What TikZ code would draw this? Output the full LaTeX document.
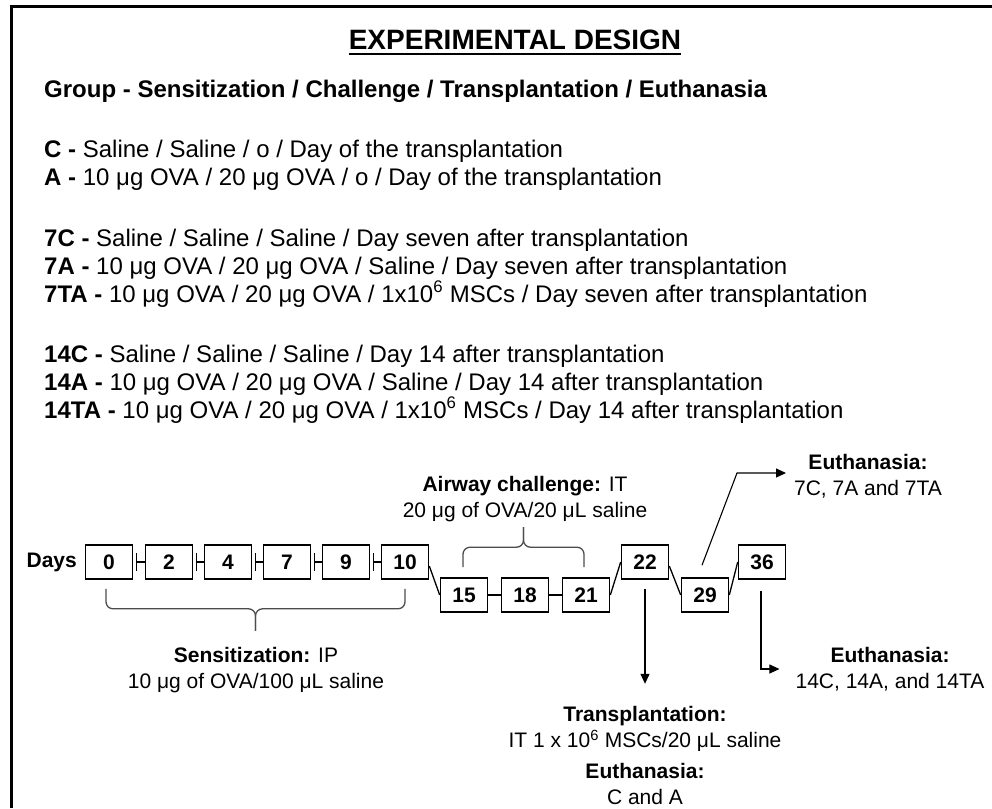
\documentclass[tikz,border=0pt]{standalone}
\usepackage{fontspec}
\setmainfont{Liberation Sans}
\usetikzlibrary{arrows.meta,calc}
\begin{document}
\begin{tikzpicture}[x=1pt,y=-1pt,
  daybox/.style={draw, line width=1.6pt, minimum width=47pt, minimum height=34pt, inner sep=0pt, font=\fontsize{21}{24}\selectfont\bfseries},
  txt/.style={anchor=base west, inner sep=0pt, font=\fontsize{24}{28}\selectfont},
  ctr/.style={align=center, inner sep=0pt, font=\fontsize{21}{26}\selectfont},
  conn/.style={line width=1.3pt},
  bracel/.style={line width=1.3pt, black!70, rounded corners=7pt},
  arr/.style={line width=1.1pt, -{Triangle[length=10pt,width=9pt]}}]
\useasboundingbox (0,0) rectangle (992,808);
\fill[white] (0,0) rectangle (992,808);
\draw[line width=3pt] (11,808) -- (11,7) -- (992,7);

% title
\node[inner sep=0pt, anchor=base, font=\fontsize{28}{32}\selectfont\bfseries] (title) at (515,50) {EXPERIMENTAL DESIGN};
\draw[line width=2pt] ([yshift=-4pt]title.base west) -- ([yshift=-4pt]title.base east);

\node[txt, font=\fontsize{24}{28}\selectfont\bfseries] (grp) at (44,97) {Group - Sensitization / Challenge / Transplantation / Euthanasia};

\node[txt] (gC) at (44,157) {\textbf{C -} Saline / Saline / o / Day of the transplantation};
\node[txt] (gA) at (44,185) {\textbf{A -} 10 μg OVA / 20 μg OVA / o / Day of the transplantation};

\node[txt] (g7C) at (44,246) {\textbf{7C -} Saline / Saline / Saline / Day seven after transplantation};
\node[txt] (g7A) at (44,274) {\textbf{7A -} 10 μg OVA / 20 μg OVA / Saline / Day seven after transplantation};
\node[txt] (g7TA) at (44,302) {\textbf{7TA -} 10 μg OVA / 20 μg OVA / 1x10\textsuperscript{6} MSCs / Day seven after transplantation};

\node[txt] (g14C) at (44,362) {\textbf{14C -} Saline / Saline / Saline / Day 14 after transplantation};
\node[txt] (g14A) at (44,390) {\textbf{14A -} 10 μg OVA / 20 μg OVA / Saline / Day 14 after transplantation};
\node[txt] (g14TA) at (44,418) {\textbf{14TA -} 10 μg OVA / 20 μg OVA / 1x10\textsuperscript{6} MSCs / Day 14 after transplantation};

% timeline
\node[inner sep=0pt, anchor=east, font=\fontsize{21}{24}\selectfont\bfseries] (days) at (77,562) {Days};
\node[daybox] (b0) at (109,562) {0};
\node[daybox] (b2) at (169,562) {2};
\node[daybox] (b4) at (228,562) {4};
\node[daybox] (b7) at (287,562) {7};
\node[daybox] (b9) at (346,562) {9};
\node[daybox] (b10) at (405,562) {10};
\node[daybox] (b15) at (464,595) {15};
\node[daybox] (b18) at (525,595) {18};
\node[daybox] (b21) at (586,595) {21};
\node[daybox] (b22) at (645,562) {22};
\node[daybox] (b29) at (705,595) {29};
\node[daybox] (b36) at (762,562) {36};

\foreach \a/\b in {b0/b2,b2/b4,b4/b7,b7/b9,b9/b10}{
  \draw[conn] ([xshift=3pt]\a.east) -- (\b.west);
  \draw[conn] ([xshift=3pt,yshift=9pt]\a.east) -- ([xshift=3pt,yshift=-9pt]\a.east);
}
\draw[conn] (b15) -- (b18);
\draw[conn] (b18) -- (b21);
\draw[conn] ([yshift=-4pt]b10.east) -- (b15.west);
\draw[conn] (b21.east) -- (b22.west);
\draw[conn] ([yshift=-4pt]b22.east) -- (b29.west);
\draw[conn] (b29.east) -- (b36.west);

% sensitization brace
\coordinate (sL) at ($(b0.south)+(-3,9)$);
\coordinate (sR) at ($(b10.south)+(0,9)$);
\coordinate (sM) at ($(sL)!0.5!(sR)$);
\draw[bracel] (sL) -- ++(0,20) -| ($(sM)+(0,42)$);
\draw[bracel] (sR) -- ++(0,20) -| ($(sM)+(0,42)$);
\node[ctr] (sens) at (256,670) {\textbf{Sensitization:} IP\\10 μg of OVA/100 μL saline};

% airway brace
\coordinate (aL) at ($(b15.north)+(-1,-10)$);
\coordinate (aR) at ($(b21.north)+(-2,-10)$);
\coordinate (aM) at ($(aL)!0.5!(aR)$);
\draw[bracel] (aL) -- ++(0,-20) -| ($(aM)+(0,-40)$);
\draw[bracel] (aR) -- ++(0,-20) -| ($(aM)+(0,-40)$);
\node[ctr] (air) at (525,499) {\textbf{Airway challenge:} IT\\20 μg of OVA/20 μL saline};

% euthanasia 7
\node[ctr] (e7) at (868,476) {\textbf{Euthanasia:}\\7C, 7A and 7TA};
\coordinate (e7s) at ($(b29.north)+(-3,-12)$);
\coordinate (e7k) at (737,473);
\coordinate (e7t) at (786,473);
\draw[arr] (e7s) -- (e7k) -- (e7t);

% euthanasia 14
\node[ctr] (e14) at (890,669) {\textbf{Euthanasia:}\\14C, 14A, and 14TA};
\coordinate (e14s) at ($(b36.south)+(-1,11)$);
\draw[arr] (e14s) |- ([xshift=-16pt]e14.west);

% transplantation
\node[ctr] (tr) at (645,729) {\textbf{Transplantation:}\\IT 1 x 10\textsuperscript{6} MSCs/20 μL saline};
\node[ctr] (eca) at (645,784) {\textbf{Euthanasia:}\\C and A};
\coordinate (trs) at ($(b22.south)+(0,9)$);
\coordinate (trt) at ($(b22.south)+(0,104)$);
\draw[arr] (trs) -- (trt);
\end{tikzpicture}
\end{document}
